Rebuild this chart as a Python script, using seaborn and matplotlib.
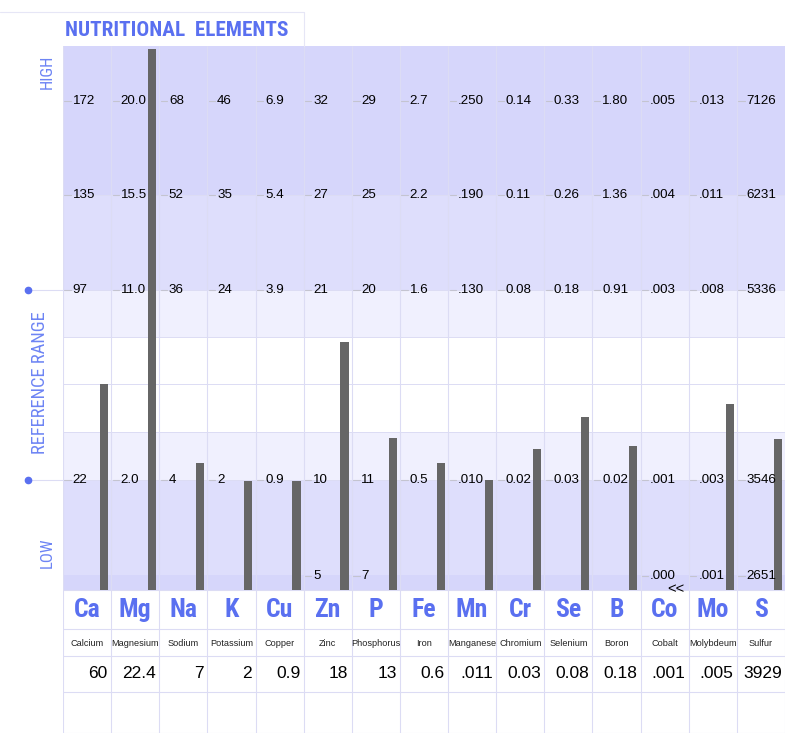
import numpy as np
import pandas as pd
import seaborn as sns
import matplotlib.pyplot as plt

# element table
symbols = ["Ca", "Mg", "Na", "K", "Cu", "Zn", "P", "Fe", "Mn", "Cr", "Se", "B", "Co", "Mo", "S"]
names = ["Calcium", "Magnesium", "Sodium", "Potassium", "Copper", "Zinc", "Phosphorus", "Iron",
         "Manganese", "Chromium", "Selenium", "Boron", "Cobalt", "Molybdeum", "Sulfur"]
results = ["60", "22.4", "7", "2", "0.9", "18", "13", "0.6", ".011", "0.03", "0.08", "0.18",
           ".001", ".005", "3929"]

# reference labels on the scale rows (top to bottom)
row_high = ["172", "20.0", "68", "46", "6.9", "32", "29", "2.7", ".250", "0.14", "0.33", "1.80",
            ".005", ".013", "7126"]
row_upper = ["135", "15.5", "52", "35", "5.4", "27", "25", "2.2", ".190", "0.11", "0.26", "1.36",
             ".004", ".011", "6231"]
row_ref_hi = ["97", "11.0", "36", "24", "3.9", "21", "20", "1.6", ".130", "0.08", "0.18", "0.91",
              ".003", ".008", "5336"]
row_ref_lo = ["22", "2.0", "4", "2", "0.9", "10", "11", "0.5", ".010", "0.02", "0.03", "0.02",
              ".001", ".003", "3546"]
row_low = ["", "", "", "", "", "5", "7", "", "", "", "", "", ".000", ".001", "2651"]

# bar heights on the chart scale
bar_level = [206, 541, 127, 109, 109, 248, 152, 127, 110, 141, 173, 144, 0, 186, 151]

# scale positions of the label rows
row_levels = [489, 395, 300, 110, 14]

BLUE = "#5a70f0"
BLUE_LIGHT = "#6d84f4"
GRID = "#dcdcf4"
DARK = "#d6d6fb"
MID = "#dedefc"
LIGHT = "#f0f0fe"

sns.set_style("white")
plt.rcParams["font.family"] = ["Liberation Sans", "DejaVu Sans"]
COND = ["Roboto Condensed", "Roboto", "DejaVu Sans"]

fig = plt.figure(figsize=(8, 7.51), dpi=100)
ax = fig.add_axes([63 / 800, 18 / 751, 722 / 800, 687 / 751])
n = len(symbols)

# background bands
bands = [(395, 544, DARK), (300, 395, MID), (253, 300, LIGHT), (158, 253, "white"),
         (110, 158, LIGHT), (15, 110, MID), (0, 15, DARK)]
for lo, hi, c in bands:
    ax.axhspan(lo, hi, xmin=0, xmax=1, color=c, lw=0, zorder=0)

for lv in [395, 300, 253, 206, 158, 110]:
    ax.axhline(lv, color=GRID, lw=0.7, zorder=1)

df = pd.DataFrame({"pos": np.arange(n) + 0.85, "level": bar_level})
sns.barplot(data=df, x="pos", y="level", native_scale=True, width=0.17,
            color="#666666", saturation=1, errorbar=None, linewidth=0,
            edgecolor="none", ax=ax, zorder=2)

# column separators and table rows
for i in range(n + 1):
    ax.plot([i, i], [-143, 544], color=GRID, lw=0.8, zorder=1)
for yv in [0, -39, -66, -102, -143]:
    ax.plot([0, n], [yv, yv], color=GRID, lw=0.8, zorder=1)

# reference value labels
for lv, row in zip(row_levels, [row_high, row_upper, row_ref_hi, row_ref_lo, row_low]):
    for i, t in enumerate(row):
        if not t:
            continue
        ax.plot([i + 0.03, i + 0.16], [lv, lv], color="#c4c4d0", lw=0.8, zorder=3)
        ax.text(i + 0.2, lv, t, ha="left", va="center", fontsize=9.6, color="black", zorder=4)

# below-range marker for cobalt
ax.text(12.74, 1, "<<", ha="center", va="center", fontsize=10.5, color="black", zorder=4)

# table text
for i in range(n):
    ax.text(i + 0.5, -20, symbols[i], ha="center", va="center", fontsize=18.5,
            fontweight="bold", color=BLUE, family=COND)
    ax.text(i + 0.5, -53, names[i], ha="center", va="center", fontsize=6.6, color="#222222")
    ax.text(i + 0.93, -84, results[i], ha="right", va="center", fontsize=12.5, color="black")

# side labels
ax.text(-0.33, 518, "HIGH", rotation=90, ha="center", va="center", fontsize=12,
        color=BLUE_LIGHT, family=COND, clip_on=False)
ax.text(-0.48, 207, "REFERENCE RANGE", rotation=90, ha="center", va="center", fontsize=13.3,
        color=BLUE_LIGHT, family=COND, clip_on=False)
ax.text(-0.33, 37, "LOW", rotation=90, ha="center", va="center", fontsize=12,
        color=BLUE_LIGHT, family=COND, clip_on=False)
for lv in [300, 110]:
    ax.plot([-0.73, 0], [lv, lv], color=GRID, lw=0.8, clip_on=False, zorder=1)
    ax.plot([-0.73], [lv], "o", color=BLUE, markersize=4.5, clip_on=False, zorder=3)

# title box
ax.text(0.04, 559, "NUTRITIONAL  ELEMENTS", ha="left", va="center", fontsize=15.3,
        fontweight="bold", color=BLUE, family=COND, clip_on=False)
ax.plot([-1.31, 5], [578, 578], color="#e6e6f6", lw=0.8, clip_on=False)
ax.plot([5, 5], [544, 578], color="#e6e6f6", lw=0.8, clip_on=False)

ax.set_xlim(0, n)
ax.set_ylim(-143, 544)
ax.set_xlabel("")
ax.set_ylabel("")
ax.set_xticks([])
ax.set_yticks([])
for s in ax.spines.values():
    s.set_visible(False)

fig.savefig("out.png", dpi=100)
